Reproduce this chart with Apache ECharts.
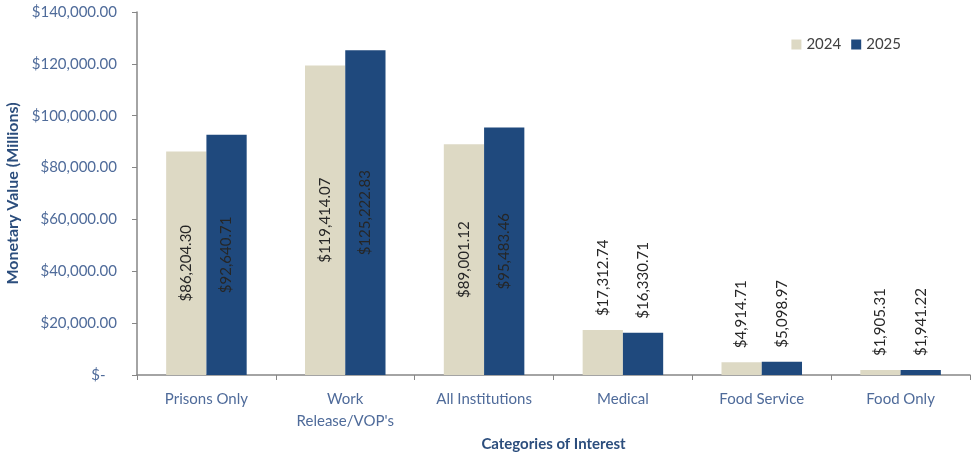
<!DOCTYPE html>
<html>
<head>
<meta charset="utf-8">
<script src="https://cdn.jsdelivr.net/npm/echarts@6/dist/echarts.min.js"></script>
<style>
  html, body { margin: 0; padding: 0; background: #fff; }
  #chart { width: 974px; height: 454px; }
</style>
</head>
<body>
<div id="chart"></div>
<script>
  // data
  var categories = ['Prisons Only', 'Work\nRelease/VOP\'s', 'All Institutions', 'Medical', 'Food Service', 'Food Only'];
  var values2024 = [86204.30, 119414.07, 89001.12, 17312.74, 4914.71, 1905.31];
  var values2025 = [92640.71, 125222.83, 95483.46, 16330.71, 5098.97, 1941.22];
  var seriesNames = ['2024', '2025'];

  var tickBlue = '#4f6b9a';
  var font = 'Lato';

  function money(v) {
    return '$' + v.toLocaleString('en-US', { minimumFractionDigits: 2, maximumFractionDigits: 2 });
  }

  // big bars get the label inside, small ones above
  function withLabels(arr) {
    return arr.map(function (v) {
      var inside = v > 50000;
      return {
        value: v,
        label: inside ? {
          position: 'inside', rotate: 90, align: 'center', verticalAlign: 'middle'
        } : {
          position: 'top', rotate: 90, align: 'left', verticalAlign: 'middle', distance: 14
        }
      };
    });
  }

  var labelBase = {
    show: true,
    color: '#262626',
    fontFamily: font,
    fontSize: 15,
    formatter: function (p) { return money(p.value); }
  };

  var myChart = echarts.init(document.getElementById('chart'));
  var option = {
    backgroundColor: '#fff',
    animation: false,
    grid: { left: 137, right: 4, top: 12, bottom: 79, outerBoundsMode: 'none' },
    legend: {
      data: seriesNames,
      right: 68,
      top: 32,
      itemWidth: 10,
      itemHeight: 10,
      itemGap: 10,
      icon: 'rect',
      textStyle: { color: '#404040', fontFamily: font, fontSize: 15 }
    },
    xAxis: {
      type: 'category',
      data: categories,
      name: 'Categories of Interest',
      nameLocation: 'middle',
      nameGap: 62,
      nameTextStyle: { color: '#2c4e7d', fontWeight: 'bold', fontFamily: font, fontSize: 15 },
      axisLine: { lineStyle: { color: '#868686', width: 1.5 } },
      axisTick: { show: true, length: 5, lineStyle: { color: '#868686' } },
      axisLabel: { interval: 0, color: tickBlue, fontFamily: font, fontSize: 15, lineHeight: 22, margin: 13 }
    },
    yAxis: {
      type: 'value',
      min: 0,
      max: 140000,
      interval: 20000,
      name: 'Monetary Value (Millions)',
      nameLocation: 'middle',
      nameGap: 115,
      nameTextStyle: { color: '#2c4e7d', fontWeight: 'bold', fontFamily: font, fontSize: 16 },
      axisLine: { show: true, lineStyle: { color: '#868686', width: 1.5 } },
      axisTick: { show: true, length: 5, lineStyle: { color: '#868686' } },
      splitLine: { show: false },
      axisLabel: {
        color: tickBlue, fontFamily: font, fontSize: 15, margin: 20,
        formatter: function (v) { return v === 0 ? '$-   ' : money(v); }
      }
    },
    series: [{
      name: seriesNames[0],
      type: 'bar',
      barGap: '0%',
      barCategoryGap: '42%',
      itemStyle: { color: '#ddd9c4' },
      label: labelBase,
      data: withLabels(values2024)
    }, {
      name: seriesNames[1],
      type: 'bar',
      itemStyle: { color: '#1f497d' },
      label: labelBase,
      data: withLabels(values2025)
    }]
  };
  myChart.setOption(option);
</script>
</body>
</html>
